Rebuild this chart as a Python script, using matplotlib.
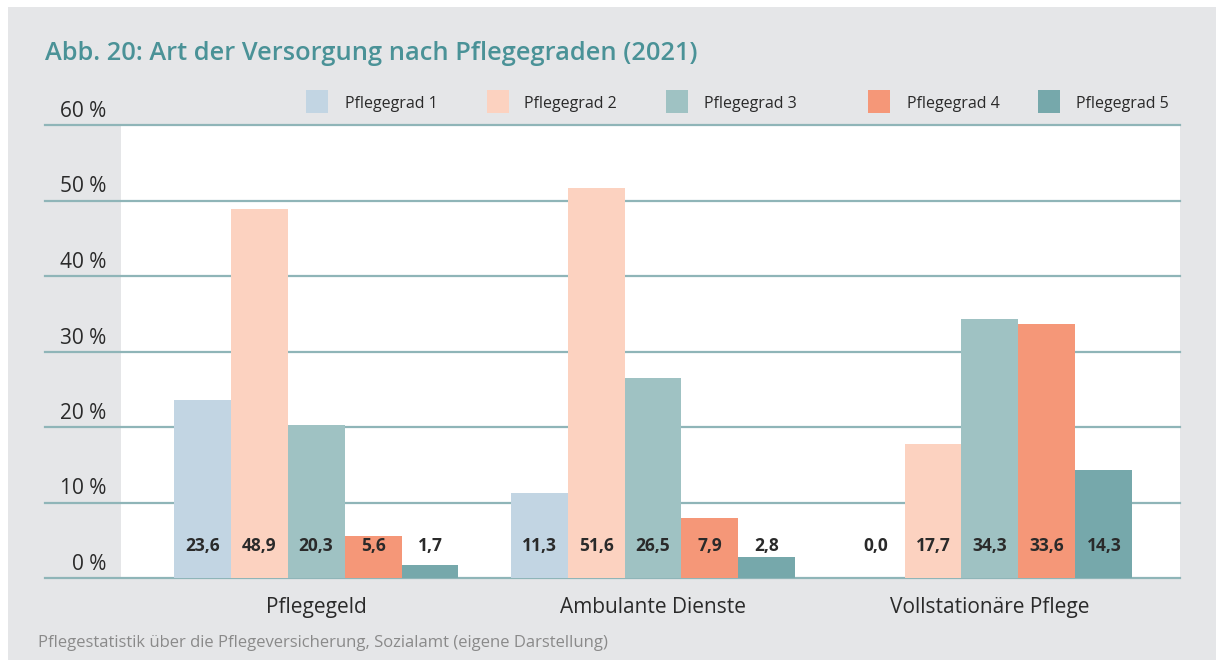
import numpy as np
import matplotlib
matplotlib.use("Agg")
import matplotlib.pyplot as plt
from matplotlib.patches import Rectangle

plt.rcParams['font.family'] = ['Open Sans', 'DejaVu Sans']

# data
categories = ['Pflegegeld', 'Ambulante Dienste', 'Vollstationäre Pflege']
series_names = ['Pflegegrad 1', 'Pflegegrad 2', 'Pflegegrad 3', 'Pflegegrad 4', 'Pflegegrad 5']
pg1 = [23.6, 11.3, 0.0]
pg2 = [48.9, 51.6, 17.7]
pg3 = [20.3, 26.5, 34.3]
pg4 = [5.6, 7.9, 33.6]
pg5 = [1.7, 2.8, 14.3]
y_ticks = [0, 10, 20, 30, 40, 50, 60]

series = [pg1, pg2, pg3, pg4, pg5]
colors = ['#c2d5e3', '#fcd2c0', '#9fc2c3', '#f59778', '#76a8ab']
grid_color = '#8fb5b8'
text_dark = '#2a2a2a'

W, H = 1216, 660
fig = plt.figure(figsize=(W / 100, H / 100), dpi=100)
fig.patch.set_facecolor('white')
# grey panel
fig.patches.append(Rectangle((8 / W, 0), 1, (H - 7) / H, transform=fig.transFigure,
                             facecolor='#e5e6e8', edgecolor='none', zorder=-10))

ax = fig.add_axes([121 / W, 1 - 578 / H, (1180 - 121) / W, (578 - 125) / H])
ax.set_facecolor('white')
for s in ax.spines.values():
    s.set_visible(False)

x = np.arange(len(categories))
bw = 0.169
for i, (vals, c) in enumerate(zip(series, colors)):
    pos = x + (i - 2) * bw
    ax.bar(pos, vals, width=bw, color=c, zorder=3)
    for p, v in zip(pos, vals):
        ax.text(p, 4.2, f'{v:.1f}'.replace('.', ','), ha='center', va='center',
                fontsize=12.5, fontweight='bold', color=text_dark, zorder=4)

ax.set_xlim(-0.579, 2.564)
ax.set_ylim(0, 60)

# grid lines extending left of the white area
ext = -(121 - 45) / (1180 - 121)
for t in y_ticks:
    ax.plot([ext, 1], [t, t], transform=ax.get_yaxis_transform(), color=grid_color,
            lw=1.6, clip_on=False, zorder=2)
    ax.annotate(f'{t} %', xy=(-15 / (1180 - 121), t), xycoords=('axes fraction', 'data'),
                xytext=(0, 8), textcoords='offset pixels', ha='right', va='baseline',
                fontsize=15, color=text_dark)

ax.set_yticks([])
ax.set_xticks(x)
ax.set_xticklabels(categories, fontsize=15, color=text_dark)
ax.tick_params(axis='x', length=0, pad=14)

# title
fig.text(45 / W, 1 - 54 / H, 'Abb. 20: Art der Versorgung nach Pflegegraden (2021)',
         fontsize=18.3, fontweight='semibold', color='#4a9297', va='center', ha='left')

# legend
patch_x = [306, 487, 666, 868, 1038]
text_x = [345, 524, 704, 907, 1076]
for px, tx, name, c in zip(patch_x, text_x, series_names, colors):
    fig.patches.append(Rectangle((px / W, 1 - 113 / H), 22 / W, 23 / H,
                                 transform=fig.transFigure, facecolor=c, edgecolor='none'))
    fig.text(tx / W, 1 - 104 / H, name, fontsize=11.5, color=text_dark, va='center', ha='left')

# source
fig.text(38 / W, 1 - 643 / H,
         'Pflegestatistik über die Pflegeversicherung, Sozialamt (eigene Darstellung)',
         fontsize=12, color='#8a8a8a', va='center', ha='left')

fig.savefig('out.png', dpi=100)
